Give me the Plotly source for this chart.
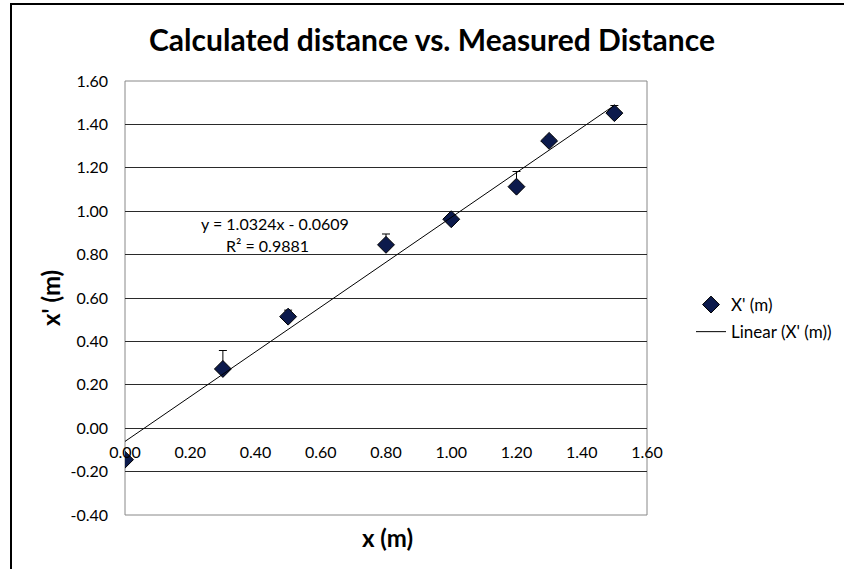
import plotly.graph_objects as go

# ---- data ----
x_measured = [0.0, 0.3, 0.5, 0.8, 1.0, 1.2, 1.3, 1.5]
x_calculated = [-0.145, 0.273, 0.514, 0.845, 0.963, 1.113, 1.324, 1.452]
err_plus = [0.02, 0.085, 0.03, 0.05, 0.02, 0.07, 0.02, 0.035]
err_minus = [0, 0, 0, 0, 0, 0, 0, 0]
fit_slope = 1.0324
fit_intercept = -0.0609
fit_x = [0.0, 1.5]
fit_y = [fit_slope * v + fit_intercept for v in fit_x]
y_ticks = [-0.4, -0.2, 0.0, 0.2, 0.4, 0.6, 0.8, 1.0, 1.2, 1.4, 1.6]
y_tick_labels = ["-0.40", "-0.20", "0.00", "0.20", "0.40", "0.60",
                 "0.80", "1.00", "1.20", "1.40", "1.60"]
x_ticks = [0.0, 0.2, 0.4, 0.6, 0.8, 1.0, 1.2, 1.4, 1.6]
x_tick_labels = ["0.00", "0.20", "0.40", "0.60", "0.80", "1.00",
                 "1.20", "1.40", "1.60"]

FONT = "Lato"
W, H = 844, 569
L, R, T, B = 125, 197, 81, 54
pw = W - L - R
ph = H - T - B

def px_x(p):
    return (p - L) / pw

def px_y(p):
    return (H - B - p) / ph

fig = go.Figure()

fig.add_trace(go.Scatter(
    x=x_measured, y=x_calculated, mode="markers", name="X' (m)",
    marker=dict(symbol="diamond", size=13, color="#0C1A4C",
                line=dict(color="#000000", width=1)),
    error_y=dict(type="data", symmetric=False, array=err_plus,
                 arrayminus=err_minus, color="#000000", thickness=1, width=4),
    legendgroup="a",
))
fig.add_trace(go.Scatter(
    x=fit_x, y=fit_y, mode="lines", name="Linear (X' (m))",
    line=dict(color="#000000", width=1),
    legendgroup="b",
))

def note(text, x, y, size, bold=False, angle=0):
    return dict(text=f"<b>{text}</b>" if bold else text,
                x=px_x(x), y=px_y(y), xref="paper", yref="paper",
                xanchor="center", yanchor="middle", showarrow=False,
                textangle=angle,
                font=dict(family=FONT, size=size, color="#000000"))

fig.update_layout(
    width=W, height=H,
    margin=dict(l=L, r=R, t=T, b=B, autoexpand=False),
    paper_bgcolor="white", plot_bgcolor="white",
    font=dict(family=FONT, size=16, color="#000000"),
    title=dict(text="<b>Calculated distance vs. Measured Distance</b>",
               x=432 / W, xref="container", xanchor="center",
               y=1 - 40 / H, yref="container", yanchor="middle",
               font=dict(family=FONT, size=30, color="#000000")),
    showlegend=True,
    legend=dict(x=px_x(691), y=px_y(287), xanchor="left", yanchor="top",
                font=dict(family=FONT, size=17, color="#000000"),
                tracegroupgap=2, bgcolor="rgba(0,0,0,0)"),
    xaxis=dict(range=[0, 1.6], tickvals=x_ticks, ticktext=x_tick_labels,
               showgrid=False, zeroline=False, showline=False,
               anchor="free", position=0.2, ticks="",
               ticklabelstandoff=13, tickfont=dict(size=16)),
    yaxis=dict(range=[-0.4, 1.6], tickvals=y_ticks, ticktext=y_tick_labels,
               showgrid=True, gridcolor="#2a2a2a", gridwidth=1,
               zeroline=False, showline=False, ticks="",
               ticklabelstandoff=16, tickfont=dict(size=16)),
    shapes=[
        dict(type="rect", xref="paper", yref="paper", x0=0, y0=0, x1=1, y1=1,
             line=dict(color="#888888", width=1), layer="below"),
        dict(type="line", xref="paper", yref="paper",
             x0=px_x(11), x1=px_x(11), y0=px_y(H + 5), y1=px_y(4),
             line=dict(color="#000000", width=2)),
        dict(type="line", xref="paper", yref="paper",
             x0=px_x(10), x1=px_x(W + 5), y0=px_y(4), y1=px_y(4),
             line=dict(color="#000000", width=2)),
    ],
    annotations=[
        note("y = 1.0324x - 0.0609", 275, 223, 16),
        note("R² = 0.9881", 267, 245, 16),
        note("x (m)", 387, 537, 24, bold=True),
        note("x' (m)", 50, 298, 24, bold=True, angle=-90),
    ],
)

fig.write_html("out.html", config={"displayModeBar": False},
               post_script="document.body.style.margin='0';")
